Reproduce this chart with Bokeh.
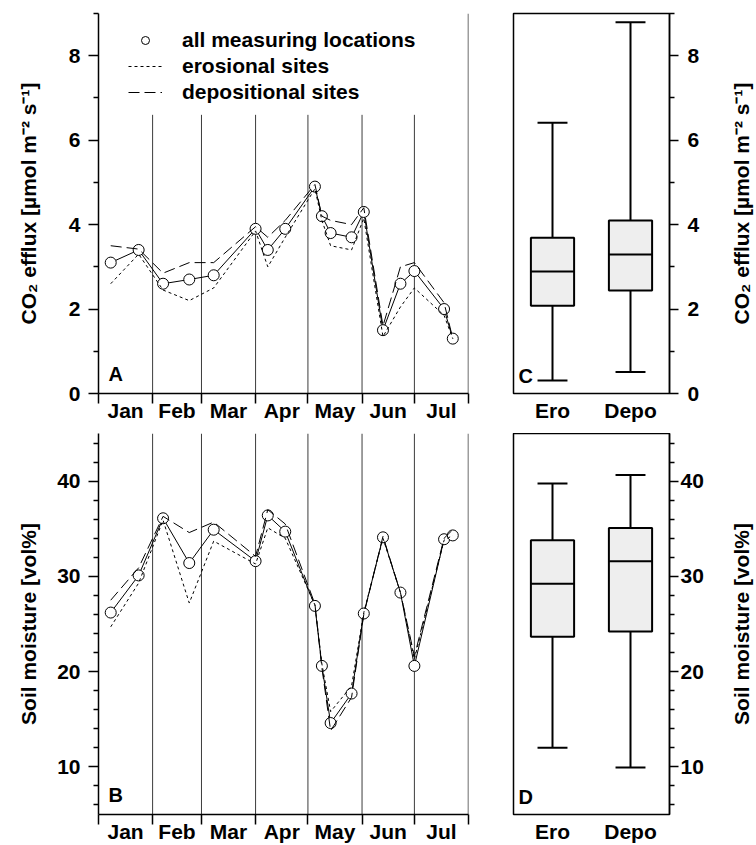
import pandas as pd
from bokeh.plotting import figure
from bokeh.layouts import column, row
from bokeh.models import FixedTicker, Legend, LegendItem, Label, Range1d
from bokeh.embed import file_html
from bokeh.resources import INLINE

# ---------------- data ----------------
dates = ["2009-01-08", "2009-01-24", "2009-02-07", "2009-02-22", "2009-03-08",
         "2009-04-01", "2009-04-08", "2009-04-18", "2009-05-05", "2009-05-09",
         "2009-05-14", "2009-05-26", "2009-06-02", "2009-06-13", "2009-06-23",
         "2009-07-01", "2009-07-18", "2009-07-23"]
months = ["Jan", "Feb", "Mar", "Apr", "May", "Jun", "Jul"]

co2_all = [3.1, 3.4, 2.6, 2.7, 2.8, 3.9, 3.4, 3.9, 4.9, 4.2, 3.8, 3.7, 4.3, 1.5, 2.6, 2.9, 2.0, 1.3]
co2_ero = [2.6, 3.3, 2.45, 2.2, 2.5, 3.85, 3.0, 3.7, 4.85, 4.1, 3.5, 3.4, 4.15, 1.35, 2.05, 2.5, 1.85, 1.3]
co2_depo = [3.5, 3.42, 2.85, 3.1, 3.1, 3.95, 3.7, 4.1, 4.95, 4.2, 4.1, 4.0, 4.4, 1.6, 3.0, 3.1, 2.15, 1.3]

sm_all = [26.2, 30.1, 36.1, 31.4, 34.9, 31.6, 36.4, 34.7, 26.9, 20.6, 14.6, 17.7, 26.1, 34.1, 28.3, 20.6, 33.9, 34.3]
sm_ero = [24.7, 29.3, 35.9, 27.2, 33.7, 31.3, 35.1, 34.0, 27.0, 20.8, 15.8, 18.5, 26.2, 34.0, 28.3, 21.3, 33.8, 34.3]
sm_depo = [27.5, 30.9, 36.3, 34.6, 35.7, 32.1, 37.0, 35.5, 27.1, 20.4, 13.8, 17.3, 26.0, 34.2, 28.3, 21.6, 34.0, 34.9]

box_labels = ["Ero", "Depo"]
# lower whisker, Q1, median, Q3, upper whisker
co2_box_ero = [0.31, 2.08, 2.89, 3.69, 6.41]
co2_box_depo = [0.51, 2.44, 3.29, 4.10, 8.79]
sm_box_ero = [12.0, 23.65, 29.23, 33.79, 39.76]
sm_box_depo = [9.93, 24.21, 31.58, 35.09, 40.63]

co2_label = "CO\u2082 efflux [\u00b5mol m\u207b\u00b2 s\u207b\u00b9]"
sm_label = "Soil moisture [vol%]"

# ---------------- helpers ----------------
FONT = "Liberation Sans"
start = pd.Timestamp("2009-01-01")
day = [(pd.Timestamp(d) - start).days for d in dates]
bounds = [(t - start).days for t in pd.date_range("2009-01-01", "2009-08-01", freq="MS")]
centers = [(a + b) / 2 for a, b in zip(bounds[:-1], bounds[1:])]


def style_axis(ax):
    ax.axis_line_width = 1.5
    ax.axis_line_color = "black"
    ax.major_tick_line_width = 1.5
    ax.minor_tick_line_width = 1.5
    ax.major_tick_line_color = "black"
    ax.minor_tick_line_color = "black"
    ax.major_tick_in = 0
    ax.minor_tick_in = 0
    ax.major_label_text_font = FONT
    ax.major_label_text_font_style = "bold"
    ax.major_label_text_font_size = "21px"
    ax.major_label_text_color = "black"
    ax.axis_label_text_font = FONT
    ax.axis_label_text_font_style = "bold"
    ax.axis_label_text_font_size = "21px"
    ax.axis_label_text_color = "black"


def letter_label(x, y, letter, dx, dy):
    return Label(x=x, y=y, x_offset=dx, y_offset=dy, text=letter,
                 text_font=FONT, text_font_style="bold", text_font_size="20px",
                 text_baseline="alphabetic", text_color="black")


def series_panel(v_all, v_ero, v_depo, y0, y1, major, minor, ylabel, sep_top,
                 top, bottom, fh, letter, title_standoff, legend=False):
    p = figure(frame_width=370, frame_height=fh, min_border_left=98, min_border_right=20,
               min_border_top=top, min_border_bottom=bottom, title=None,
               x_range=Range1d(bounds[0], bounds[-1]), y_range=Range1d(y0, y1),
               output_backend="svg", toolbar_location=None)
    p.grid.visible = False
    p.outline_line_color = None
    p.background_fill_color = "white"
    p.border_fill_color = "white"

    inner = bounds[1:-1]
    p.segment(x0=inner, y0=[y0] * len(inner), x1=inner, y1=[sep_top] * len(inner),
              line_color="#3c3c3c", line_width=1)
    p.segment(x0=[bounds[-1]], y0=[y0], x1=[bounds[-1]], y1=[y1],
              line_color="#3c3c3c", line_width=1.5)

    p.line(day, v_all, line_color="black", line_width=1)
    circ = p.scatter(day, v_all, marker="circle", size=11, fill_color="white",
                     line_color="black", line_width=1)
    ero = p.line(day, v_ero, line_color="black", line_width=1, line_dash="3 3")
    depo = p.line(day, v_depo, line_color="black", line_width=1, line_dash="11 5")

    xa = p.xaxis[0]
    style_axis(xa)
    xa.ticker = FixedTicker(ticks=centers, minor_ticks=bounds)
    xa.major_label_overrides = {c: m for c, m in zip(centers, months)}
    xa.major_tick_out = 0
    xa.minor_tick_out = 10
    xa.major_label_standoff = -5

    ya = p.yaxis[0]
    style_axis(ya)
    ya.ticker = FixedTicker(ticks=major, minor_ticks=minor)
    ya.major_tick_out = 10
    ya.minor_tick_out = 5
    ya.major_label_standoff = 8
    ya.axis_label = ylabel
    ya.axis_label_standoff = title_standoff

    p.add_layout(letter_label(bounds[0], y0, letter, 10, 20))

    if legend:
        lg = Legend(items=[LegendItem(label="all measuring locations", renderers=[circ]),
                           LegendItem(label="erosional sites", renderers=[ero]),
                           LegendItem(label="depositional sites", renderers=[depo])],
                    location=(30, fh - 14 - 77), margin=0, padding=0, spacing=2,
                    glyph_width=34, glyph_height=20, label_height=20, label_standoff=20,
                    border_line_alpha=0, background_fill_alpha=0,
                    label_text_font=FONT, label_text_font_style="bold",
                    label_text_font_size="21px", label_text_color="black")
        p.add_layout(lg)
    return p


def box_panel(s_ero, s_depo, y0, y1, major, minor, top, bottom, fh, letter,
              label_standoff):
    p = figure(frame_width=156, frame_height=fh, min_border_left=25, min_border_right=40,
               min_border_top=top, min_border_bottom=bottom, title=None,
               x_range=Range1d(0.5, 2.5), y_range=Range1d(y0, y1),
               y_axis_location="right", output_backend="svg", toolbar_location=None)
    p.grid.visible = False
    p.outline_line_color = "black"
    p.outline_line_width = 1.5
    p.background_fill_color = "white"
    p.border_fill_color = "white"

    xs = [1, 2]
    bw = 0.554
    cw = 0.384
    stats = [s_ero, s_depo]
    lo = [s[0] for s in stats]
    q1 = [s[1] for s in stats]
    md = [s[2] for s in stats]
    q3 = [s[3] for s in stats]
    hi = [s[4] for s in stats]

    p.segment(x0=xs, y0=q3, x1=xs, y1=hi, line_color="black", line_width=2)
    p.segment(x0=xs, y0=lo, x1=xs, y1=q1, line_color="black", line_width=2)
    p.segment(x0=[x - cw / 2 for x in xs], y0=hi, x1=[x + cw / 2 for x in xs], y1=hi,
              line_color="black", line_width=2)
    p.segment(x0=[x - cw / 2 for x in xs], y0=lo, x1=[x + cw / 2 for x in xs], y1=lo,
              line_color="black", line_width=2)
    p.vbar(x=xs, width=bw, bottom=q1, top=q3, fill_color="#eeeeee",
           line_color="black", line_width=2)
    p.segment(x0=[x - bw / 2 for x in xs], y0=md, x1=[x + bw / 2 for x in xs], y1=md,
              line_color="black", line_width=2)

    xa = p.xaxis[0]
    style_axis(xa)
    xa.ticker = FixedTicker(ticks=xs, minor_ticks=[])
    xa.major_label_overrides = {x: l for x, l in zip(xs, box_labels)}
    xa.axis_line_color = None
    xa.major_tick_out = 0
    xa.major_tick_line_color = None
    xa.major_label_standoff = 5

    ya = p.yaxis[0]
    style_axis(ya)
    ya.ticker = FixedTicker(ticks=major, minor_ticks=minor)
    ya.major_tick_out = 9
    ya.minor_tick_out = 5
    ya.major_label_standoff = label_standoff

    p.add_layout(letter_label(0.5, y0, letter, 5, 18))
    return p


def title_strip(label, y0, y1, top, bottom, fh):
    # narrow strip holding the right-hand axis title (reads bottom-to-top)
    t = figure(frame_width=4, frame_height=fh, min_border_left=43, min_border_right=0,
               min_border_top=top, min_border_bottom=bottom, title=None,
               x_range=Range1d(0, 1), y_range=Range1d(y0, y1), x_axis_location=None,
               output_backend="svg", toolbar_location=None)
    t.grid.visible = False
    t.outline_line_color = None
    t.background_fill_color = "white"
    t.border_fill_color = "white"
    ya = t.yaxis[0]
    style_axis(ya)
    ya.ticker = FixedTicker(ticks=[], minor_ticks=[])
    ya.axis_line_color = None
    ya.major_tick_out = 0
    ya.minor_tick_out = 0
    ya.major_label_standoff = 0
    ya.major_label_text_font_size = "0px"
    ya.axis_label = label
    ya.axis_label_standoff = 0
    return t


pA = series_panel(co2_all, co2_ero, co2_depo, 0, 9, [0, 2, 4, 6, 8], [1, 3, 5, 7, 9],
                  co2_label, 6.6, 13, 40, 380, "A", 26, legend=True)
pC = box_panel(co2_box_ero, co2_box_depo, 0, 9, [0, 2, 4, 6, 8], [1, 3, 5, 7, 9],
               13, 40, 380, "C", 9)
tC = title_strip(co2_label, 0, 9, 13, 40, 380)

sm_minor = [6, 8, 12, 14, 16, 18, 22, 24, 26, 28, 32, 34, 36, 38, 42, 44]
pB = series_panel(sm_all, sm_ero, sm_depo, 5, 45, [10, 20, 30, 40], sm_minor,
                  sm_label, 45, 0, 31, 381, "B", 14)
pD = box_panel(sm_box_ero, sm_box_depo, 5, 45, [10, 20, 30, 40], sm_minor,
               0, 31, 381, "D", 2)
tD = title_strip(sm_label, 5, 45, 0, 31, 381)

layout = column(row(pA, pC, tC), row(pB, pD, tD))

open("out.html", "w").write(file_html(layout, INLINE))
